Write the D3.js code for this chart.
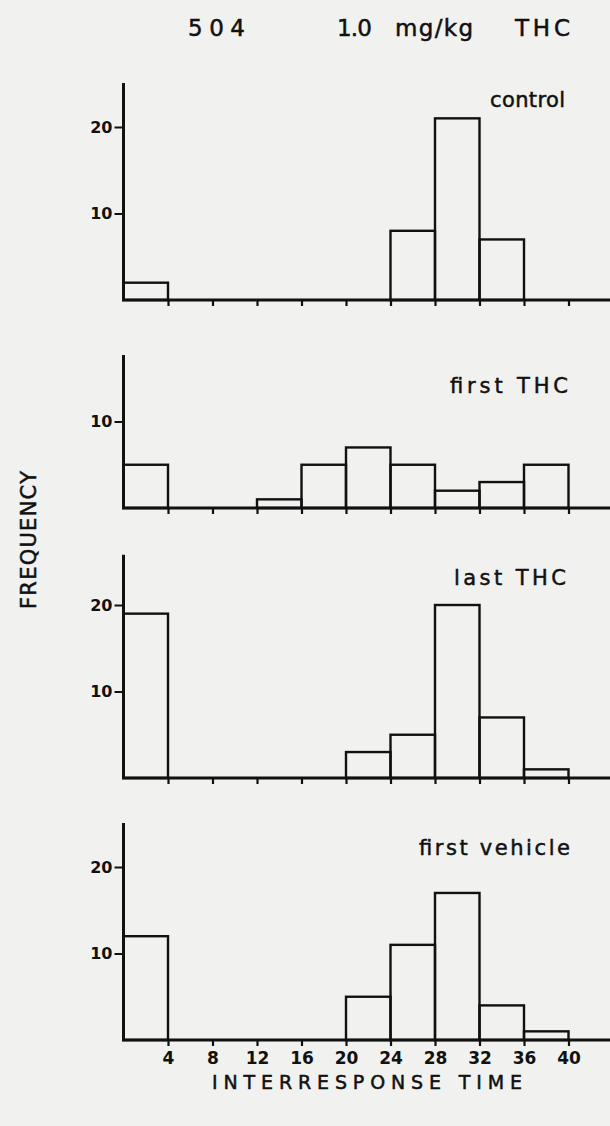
<!DOCTYPE html>
<html>
<head>
<meta charset="utf-8">
<script src="https://cdn.jsdelivr.net/npm/d3@7"></script>
<style>
  html, body { margin: 0; padding: 0; background: #f1f1ef; }
  svg { display: block; }
  text { font-family: "DejaVu Sans", sans-serif; fill: #111; }
</style>
</head>
<body>
<div id="chart"></div>
<script>
// Interresponse-time histograms, subject 504, 1.0 mg/kg THC
const binStarts = [0, 4, 8, 12, 16, 20, 24, 28, 32, 36];
const binWidth = 4;
const control = [2, 0, 0, 0, 0, 0, 8, 21, 7, 0];
const firstTHC = [5, 0, 0, 1, 5, 7, 5, 2, 3, 5];
const lastTHC = [19, 0, 0, 0, 0, 3, 5, 20, 7, 1];
const firstVehicle = [12, 0, 0, 0, 0, 5, 11, 17, 4, 1];
const panelNames = ["control", "first  THC", "last  THC", "first  vehicle"];
const panelSeries = [control, firstTHC, lastTHC, firstVehicle];
const panelYTicks = [[10, 20], [10], [10, 20], [10, 20]];
const xTicks = [4, 8, 12, 16, 20, 24, 28, 32, 36, 40];

// layout only
const width = 610, height = 1126;
const unit = 8.65;
const layout = [
    { base: 300, top: 25.1, titleY: 107, titleX: 490, titleLen: 75 },
    { base: 508, top: 17.7, titleY: 393, titleX: 450, titleLen: 118 },
    { base: 778, top: 25.8, titleY: 585, titleX: 454, titleLen: 112 },
    { base: 1040, top: 25.1, titleY: 855, titleX: 419, titleLen: 151 }
];

const svg = d3.select("#chart").append("svg")
    .attr("width", width)
    .attr("height", height);

const x = d3.scaleLinear().domain([0, 40]).range([123.5, 568.5]);

const heavy = sel => sel.attr("stroke", "#111").attr("stroke-width", 0.5);

// header
[["504", 188, 57], ["1.0", 337, 35], ["mg/kg", 395, 78], ["THC", 515, 55]].forEach(([t, px, len]) => {
    svg.append("text")
        .attr("x", px).attr("y", 36)
        .attr("font-size", 23)
        .attr("textLength", len).attr("lengthAdjust", "spacing")
        .call(heavy)
        .text(t);
});

svg.append("text")
    .attr("transform", "translate(36,540) rotate(-90)")
    .attr("text-anchor", "middle")
    .attr("font-size", 21)
    .attr("textLength", 138).attr("lengthAdjust", "spacing")
    .call(heavy)
    .text("FREQUENCY");

svg.append("text")
    .attr("x", 212).attr("y", 1089)
    .attr("font-size", 19)
    .attr("textLength", 310).attr("lengthAdjust", "spacing")
    .call(heavy)
    .text("INTERRESPONSE  TIME");

panelSeries.forEach((series, i) => {
    const L = layout[i];
    const y = d3.scaleLinear().domain([0, L.top]).range([L.base, L.base - L.top * unit]);
    const g = svg.append("g");
    const bins = binStarts.map((s, j) => ({ x0: s, x1: s + binWidth, n: series[j] }))
        .filter(d => d.n > 0);

    g.selectAll("rect")
        .data(bins)
        .join("rect")
        .attr("x", d => x(d.x0))
        .attr("y", d => y(d.n))
        .attr("width", d => x(d.x1) - x(d.x0))
        .attr("height", d => y(0) - y(d.n))
        .attr("fill", "none")
        .attr("stroke", "#111")
        .attr("stroke-width", 2.4);

    // x ticks
    const xa = g.append("g")
        .attr("transform", `translate(0,${L.base})`)
        .call(d3.axisBottom(x).tickValues(xTicks).tickSize(6).tickPadding(6)
            .tickFormat(i === panelSeries.length - 1 ? d3.format("d") : () => ""));
    xa.select(".domain").remove();
    xa.selectAll(".tick line").attr("stroke", "#111").attr("stroke-width", 2.2);
    xa.selectAll(".tick text")
        .attr("font-size", 17).attr("font-weight", "bold")
        .attr("font-family", "DejaVu Sans, sans-serif").attr("fill", "#111");

    // y ticks
    const ya = g.append("g")
        .attr("transform", `translate(${x(0)},0)`)
        .call(d3.axisLeft(y).tickValues(panelYTicks[i]).tickSize(9).tickPadding(2).tickFormat(d3.format("d")));
    ya.select(".domain").remove();
    ya.selectAll(".tick line").attr("stroke", "#111").attr("stroke-width", 2);
    ya.selectAll(".tick text")
        .attr("font-size", 16).attr("font-weight", "bold")
        .attr("font-family", "DejaVu Sans, sans-serif").attr("fill", "#111");

    // axis lines
    g.append("path")
        .attr("d", `M${x(0)},${y(L.top)}V${L.base}H${width}`)
        .attr("fill", "none")
        .attr("stroke", "#111")
        .attr("stroke-width", 3);

    g.append("text")
        .attr("x", L.titleX).attr("y", L.titleY)
        .attr("font-size", 21)
        .attr("textLength", L.titleLen).attr("lengthAdjust", "spacing")
        .call(heavy)
        .text(panelNames[i]);
});
</script>
</body>
</html>
